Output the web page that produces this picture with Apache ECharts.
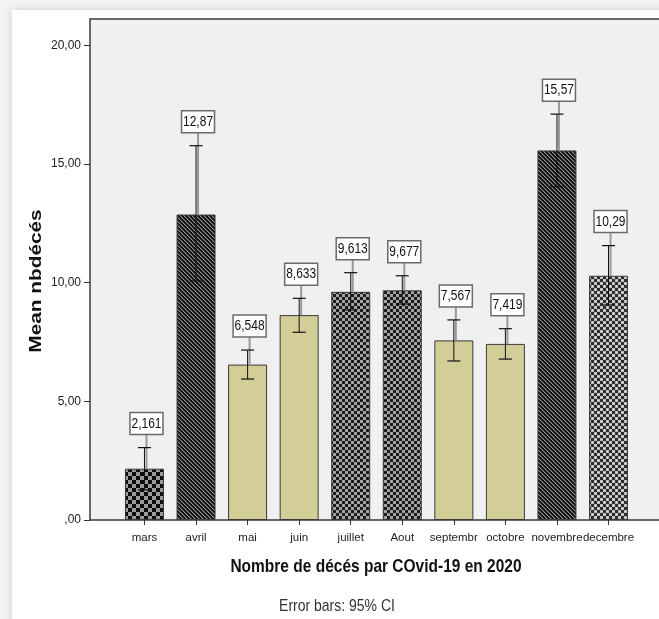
<!DOCTYPE html>
<html>
<head>
<meta charset="utf-8">
<script src="https://cdn.jsdelivr.net/npm/echarts@6/dist/echarts.min.js"></script>
<style>
  html, body { margin: 0; padding: 0; background: #f3f3f3; width: 659px; height: 619px; overflow: hidden; }
  #card { position: absolute; left: 12px; top: 10px; width: 700px; height: 700px; background: #fff; box-shadow: 0 0 9px rgba(0,0,0,0.16); }
  #chart { position: absolute; left: 0; top: 0; width: 659px; height: 619px; }
</style>
</head>
<body>
<div id="card"></div>
<div id="chart"></div>
<script>
// Monthly mean deaths with 95% confidence intervals
const months = ['mars', 'avril', 'mai', 'juin', 'juillet', 'Aout', 'septembr', 'octobre', 'novembre', 'decembre'];
const means  = [2.161, 12.87, 6.548, 8.633, 9.613, 9.677, 7.567, 7.419, 15.57, 10.29];
const ciLow  = [1.27, 10.07, 5.94, 7.91, 8.85, 9.10, 6.70, 6.78, 14.04, 9.06];
const ciHigh = [3.05, 15.77, 7.16, 9.34, 10.42, 10.29, 8.43, 8.06, 17.10, 11.56];

const FONT = "'Liberation Sans', Arial, sans-serif";

// ---- fill patterns ----
function tile(w, h, paint) {
  const c = document.createElement('canvas');
  c.width = w; c.height = h;
  const ctx = c.getContext('2d');
  paint(ctx);
  return { image: c, repeat: 'repeat' };
}
function px(ctx, x, y, col) { ctx.fillStyle = col; ctx.fillRect(x, y, 1, 1); }

const checkerLarge = tile(8, 8, ctx => {
  ctx.fillStyle = '#0d0d0d'; ctx.fillRect(0, 0, 8, 8);
  ctx.fillStyle = '#9a9a9a'; ctx.fillRect(0, 0, 4, 4); ctx.fillRect(4, 4, 4, 4);
});
const diagonal = tile(4, 4, ctx => {
  for (let y = 0; y < 4; y++) for (let x = 0; x < 4; x++) {
    const k = ((x - y) % 4 + 4) % 4;
    px(ctx, x, y, k === 0 ? '#8e8e8e' : (k === 1 ? '#474747' : '#101010'));
  }
});
const checkerFine = tile(6, 6, ctx => {
  ctx.fillStyle = '#1c1c1c'; ctx.fillRect(0, 0, 6, 6);
  ctx.fillStyle = '#a2a2a2'; ctx.fillRect(0, 0, 3, 3); ctx.fillRect(3, 3, 3, 3);
});
const checkerLight = tile(6, 6, ctx => {
  ctx.fillStyle = '#2e2e2e'; ctx.fillRect(0, 0, 6, 6);
  ctx.fillStyle = '#bdbdbd'; ctx.fillRect(0, 0, 3, 3); ctx.fillRect(3, 3, 3, 3);
  px(ctx, 1, 1, '#f0f0f0'); px(ctx, 4, 4, '#f0f0f0');
});
const khaki = '#d3cd98';
const barFills = [checkerLarge, diagonal, khaki, khaki, checkerFine, checkerFine, khaki, khaki, diagonal, checkerLight];

const fmtValue = v => String(v).replace('.', ',');
const fmtTick = v => (v === 0 ? ',00' : v.toFixed(2).replace('.', ','));

const chart = echarts.init(document.getElementById('chart'), null, { renderer: 'canvas' });

chart.setOption({
  animation: false,
  backgroundColor: 'transparent',
  grid: { left: 118.7, right: 24.7, top: 45.3, bottom: 99 },
  xAxis: {
    type: 'category',
    data: months,
    axisLine: { show: false },
    axisTick: { show: true, alignWithLabel: true, length: 5, lineStyle: { color: '#333', width: 1 } },
    axisLabel: { color: '#222', fontSize: 11.5, fontFamily: FONT, margin: 12, interval: 0 }
  },
  yAxis: {
    type: 'value',
    min: 0, max: 20, interval: 5,
    offset: 28.7,
    axisLine: { show: false },
    axisTick: { show: true, length: 6, lineStyle: { color: '#333', width: 1 } },
    axisLabel: { color: '#222', fontSize: 12, fontFamily: FONT, margin: 9, formatter: fmtTick },
    splitLine: { show: false }
  },
  graphic: [
    { type: 'rect', z: -10, shape: { x: 90, y: 19, width: 620, height: 501 },
      style: { fill: '#f0f0f0', stroke: '#3a3a3a', lineWidth: 1.5 } },
    { type: 'text', x: 37, y: 281, rotation: Math.PI / 2, scaleX: 1.3,
      style: { text: 'Mean nbdécés', font: 'bold 16px ' + FONT, fill: '#111', align: 'center', verticalAlign: 'middle' } },
    { type: 'text', x: 376, y: 567, scaleY: 1.2,
      style: { text: 'Nombre de décés par COvid-19 en 2020', font: 'bold 15.5px ' + FONT, fill: '#111', align: 'center', verticalAlign: 'middle' } },
    { type: 'text', x: 337, y: 606, scaleY: 1.2,
      style: { text: 'Error bars: 95% CI', font: '14px ' + FONT, fill: '#333', align: 'center', verticalAlign: 'middle' } }
  ],
  series: [
    {
      type: 'bar',
      barWidth: 39,
      data: means.map((v, i) => ({
        value: v,
        itemStyle: { color: barFills[i], borderColor: '#3a3a3a', borderWidth: 1 }
      }))
    },
    {
      type: 'custom',
      z: 5,
      encode: { x: 0, y: [1, 2] },
      data: months.map((m, i) => [i, ciLow[i], ciHigh[i], means[i]]),
      renderItem: function (params, api) {
        const i = api.value(0);
        const lo = api.coord([i, api.value(1)]);
        const hi = api.coord([i, api.value(2)]);
        const top = api.coord([i, api.value(3)]);
        const cx = lo[0];
        const cap = 6.5;
        const boxW = 33, boxH = 22;
        const bx = cx + 2;
        const boxBottom = hi[1] - 13;
        return {
          type: 'group',
          children: [
            { type: 'line', shape: { x1: bx, y1: boxBottom, x2: bx, y2: top[1] },
              style: { stroke: '#999', lineWidth: 2 } },
            { type: 'line', shape: { x1: cx, y1: lo[1], x2: cx, y2: hi[1] },
              style: { stroke: '#111', lineWidth: 1 } },
            { type: 'line', shape: { x1: cx - cap, y1: hi[1], x2: cx + cap, y2: hi[1] },
              style: { stroke: '#111', lineWidth: 1.2 } },
            { type: 'line', shape: { x1: cx - cap, y1: lo[1], x2: cx + cap, y2: lo[1] },
              style: { stroke: '#111', lineWidth: 1.2 } },
            { type: 'rect', shape: { x: bx - boxW / 2, y: boxBottom - boxH, width: boxW, height: boxH },
              style: { fill: '#fff', stroke: '#6a6a6a', lineWidth: 1.5 } },
            { type: 'text', x: bx, y: boxBottom - boxH / 2, scaleY: 1.2,
              style: { text: fmtValue(api.value(3)), font: '12px ' + FONT, fill: '#111',
                       align: 'center', verticalAlign: 'middle' } }
          ]
        };
      }
    }
  ]
});
</script>
</body>
</html>
